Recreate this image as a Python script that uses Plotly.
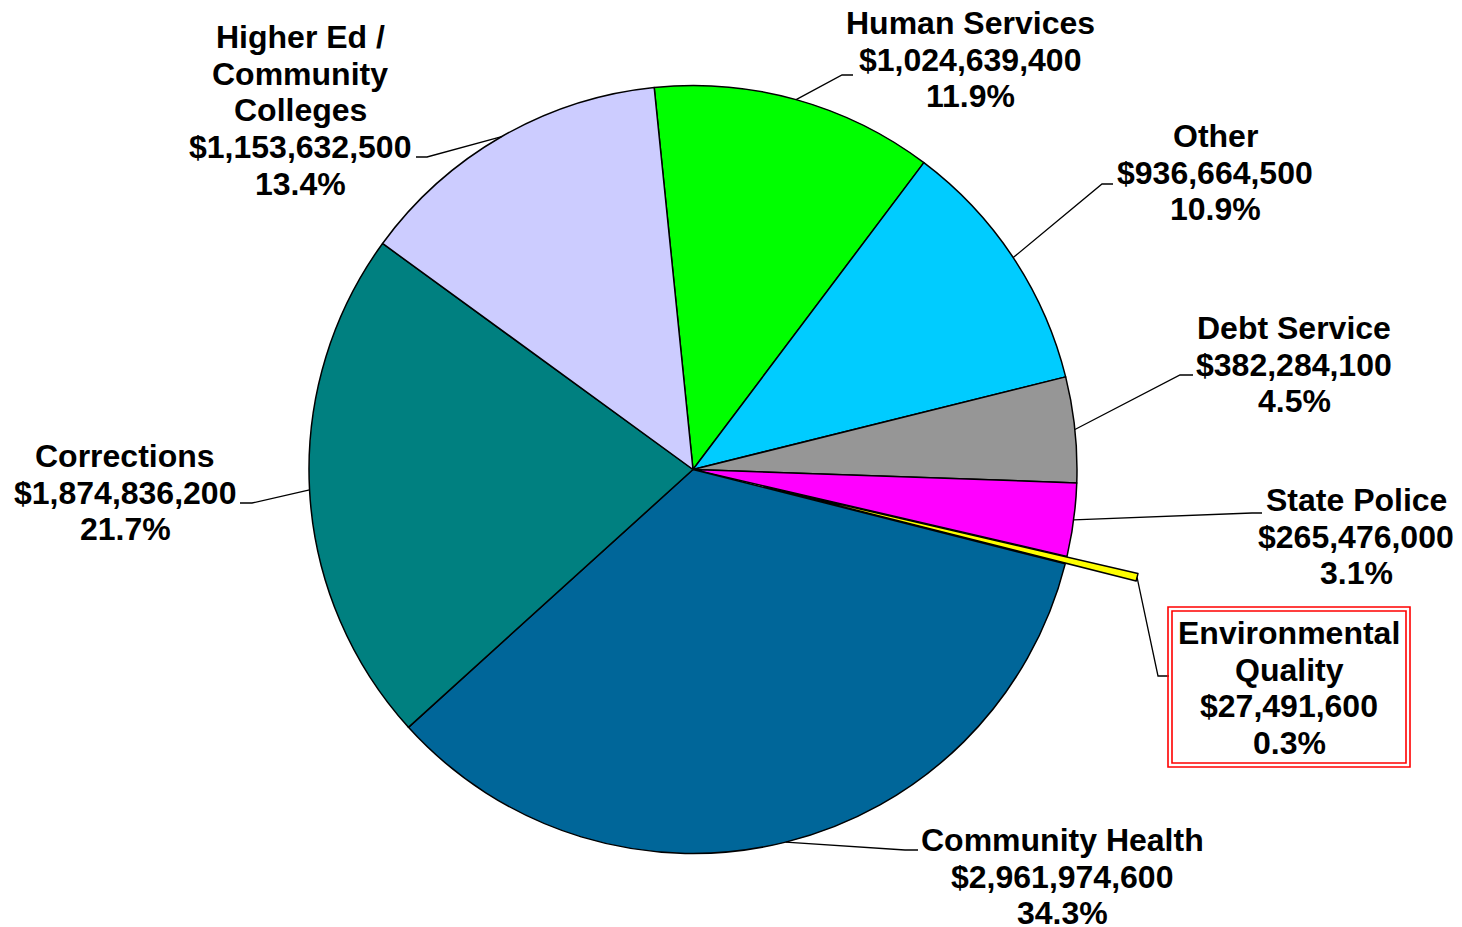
import math
import plotly.graph_objects as go

# ---------------- data ----------------
categories = ["Human Services", "Other", "Debt Service", "State Police",
              "Environmental Quality", "Community Health", "Corrections",
              "Higher Ed / Community Colleges"]
values = [1024639400, 936664500, 382284100, 265476000,
          27491600, 2961974600, 1874836200, 1153632500]
pct_labels = ["11.9%", "10.9%", "4.5%", "3.1%", "0.3%", "34.3%", "21.7%", "13.4%"]
name_lines = [["Human Services"], ["Other"], ["Debt Service"], ["State Police"],
              ["Environmental", "Quality"], ["Community Health"], ["Corrections"],
              ["Higher Ed /", "Community", "Colleges"]]

# ---------------- styles / layout ----------------
colors = ["#00FF00", "#00CCFF", "#969696", "#FF00FF",
          "#FFFF00", "#006699", "#008080", "#CCCCFF"]
pulls = [0, 0, 0, 0, 0.19, 0, 0, 0]

PAGE_W, PAGE_H = 1462, 927
OFF = 8                                  # default page body margin
W, H = PAGE_W - OFF, PAGE_H - OFF        # figure size so it fills the window
CX, CY, R = 693, 469.5, 384              # pie centre and radius (page pixels)
ROT = -5.8                               # start angle of first slice (deg, clockwise from top)
FONT = dict(family="Liberation Sans, Arial, sans-serif", size=32, color="black")
LINE_H = 36.7

label_center_x = [970, 1215, 1294, 1356, 1289, 1062, 125, 300]
label_first_y = [23, 136, 328, 500, 633, 840, 456, 37]
leader_elbow = [(842, 75), (1102, 184), (1180, 375), (1252, 513),
                (1158, 676), (905, 850), (252, 503), (427, 157)]
leader_end = [(853, 75), (1113, 184), (1193, 375), (1262, 513),
              (1169, 676), (918, 850), (240, 503), (416, 157)]
env_box = (1168, 607, 1410, 767)


def px(x):
    return (x - OFF) / W


def py(y):
    return 1 - (y - OFF) / H


half = R * (1 + max(pulls))
dom_x = [max(0.0, px(CX - half)), min(1.0, px(CX + half))]
dom_y = [max(0.0, py(CY + half)), min(1.0, py(CY - half))]

fig = go.Figure(go.Pie(
    labels=categories, values=values, sort=False, direction="clockwise",
    rotation=ROT, pull=pulls, textinfo="none", hoverinfo="label+value+percent",
    marker=dict(colors=colors, line=dict(color="black", width=1.5)),
    domain=dict(x=dom_x, y=dom_y), showlegend=False,
))

total = sum(values)
shapes = []
annotations = []
cum = 0.0
for i, v in enumerate(values):
    mid = math.radians(ROT + 360.0 * (cum + v / 2.0) / total)
    cum += v
    rho = R * (1 + pulls[i])
    sx, sy = CX + rho * math.sin(mid), CY - rho * math.cos(mid)
    ex, ey = leader_elbow[i]
    tx, ty = leader_end[i]
    path = f"M {px(sx)},{py(sy)} L {px(ex)},{py(ey)} L {px(tx)},{py(ty)}"
    shapes.append(dict(type="path", path=path, xref="paper", yref="paper",
                       line=dict(color="black", width=1.3), layer="above"))
    lines = name_lines[i] + [f"${v:,}", pct_labels[i]]
    for k, t in enumerate(lines):
        annotations.append(dict(
            text=f"<b>{t}</b>", x=px(label_center_x[i]),
            y=py(label_first_y[i] + k * LINE_H), xref="paper", yref="paper",
            xanchor="center", yanchor="middle", showarrow=False, font=FONT))

# double red frame around the Environmental Quality label
x0, y0, x1, y1 = env_box
for inset in (0, 4):
    shapes.append(dict(type="rect", xref="paper", yref="paper",
                       x0=px(x0 + inset), x1=px(x1 - inset),
                       y0=py(y1 - inset), y1=py(y0 + inset),
                       line=dict(color="#FF0000", width=1.6), layer="above"))

fig.update_layout(
    width=W, height=H, margin=dict(l=0, r=0, t=0, b=0),
    paper_bgcolor="white", plot_bgcolor="white",
    shapes=shapes, annotations=annotations,
)

fig.write_html("out.html")
